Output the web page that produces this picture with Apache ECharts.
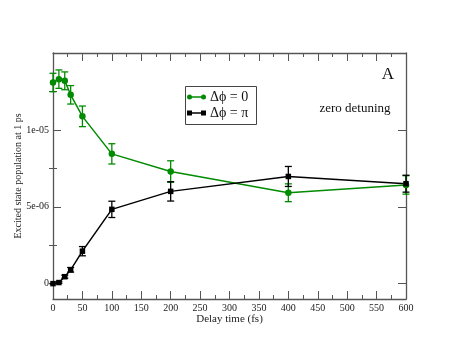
<!DOCTYPE html>
<html><head><meta charset="utf-8">
<script src="https://cdn.jsdelivr.net/npm/echarts@6/dist/echarts.min.js"></script>
<style>html,body{margin:0;padding:0;background:#fff}#c{width:457px;height:353px}</style>
</head><body><div id="c"></div>
<script>
const delays = [0, 10, 20, 30, 50, 100, 200, 400, 600];
const phase0 = [13.08e-6, 13.30e-6, 13.19e-6, 12.28e-6, 10.88e-6, 8.44e-6, 7.29e-6, 5.91e-6, 6.42e-6];
const phase0Err = [0.6e-6, 0.6e-6, 0.58e-6, 0.6e-6, 0.67e-6, 0.66e-6, 0.7e-6, 0.58e-6, 0.6e-6];
const phasePi = [0, 0.07e-6, 0.45e-6, 0.9e-6, 2.11e-6, 4.83e-6, 6.0e-6, 6.97e-6, 6.5e-6];
const phasePiErr = [0, 0.05e-6, 0.1e-6, 0.15e-6, 0.3e-6, 0.53e-6, 0.63e-6, 0.65e-6, 0.55e-6];
const yMajorTicks = [0, 5e-6, 1e-5];
const yMinorTicks = [2.5e-6, 7.5e-6, 1.25e-5];
const yTickLabels = ['0', '5e-06', '1e-05'];
const legendNames = ['\u0394\u03d5 = 0', '\u0394\u03d5 = \u03c0'];

const GREEN = '#008b00', BLACK = '#000000', AX = '#555555';
const FONT = '"Liberation Serif", "DejaVu Serif", serif';

function errData(vals, errs) { return delays.map((d, i) => [d, vals[i] - errs[i], vals[i] + errs[i]]); }
function errSeries(vals, errs, color) {
  return {
    type: 'custom', xAxisIndex: 0, yAxisIndex: 0, z: 3,
    data: errData(vals, errs),
    renderItem: function (params, api) {
      const lo = api.coord([api.value(0), api.value(1)]);
      const hi = api.coord([api.value(0), api.value(2)]);
      const w = 3.5;
      const st = {stroke: color, lineWidth: 1.3};
      return {type: 'group', children: [
        {type: 'line', shape: {x1: lo[0], y1: lo[1], x2: hi[0], y2: hi[1]}, style: st},
        {type: 'line', shape: {x1: lo[0] - w, y1: lo[1], x2: lo[0] + w, y2: lo[1]}, style: st},
        {type: 'line', shape: {x1: hi[0] - w, y1: hi[1], x2: hi[0] + w, y2: hi[1]}, style: st}
      ]};
    }
  };
}

const chart = echarts.init(document.getElementById('c'), null, {renderer: 'canvas'});
const grid = {left: 53, right: 51, top: 53, bottom: 54};
const hiddenLabel = {show: false};
chart.setOption({
  animation: false,
  grid: grid,
  xAxis: [
    {type: 'value', min: 0, max: 600, interval: 50, position: 'bottom',
     axisLine: {show: true, onZero: false, lineStyle: {color: AX, width: 1.3}},
     axisTick: {show: true, inside: true, length: 8, lineStyle: {color: AX}},
     minorTick: {show: true, splitNumber: 2, length: 4, lineStyle: {color: AX}},
     splitLine: {show: false},
     axisLabel: {color: '#222', fontFamily: FONT, fontSize: 10, margin: 4},
     name: 'Delay time (fs)', nameLocation: 'middle', nameGap: 15, nameMoveOverlap: false,
     nameTextStyle: {color: '#222', fontFamily: FONT, fontSize: 11}},
    {type: 'value', min: 0, max: 600, interval: 50, position: 'top',
     axisLine: {show: true, onZero: false, lineStyle: {color: AX, width: 1.3}},
     axisTick: {show: true, inside: true, length: 8, lineStyle: {color: AX}},
     minorTick: {show: true, splitNumber: 2, length: 4, lineStyle: {color: AX}},
     splitLine: {show: false}, axisLabel: hiddenLabel}
  ],
  yAxis: [
    {type: 'value', min: -1e-6, max: 1.5e-5, position: 'left',
     axisLine: {show: true, onZero: false, lineStyle: {color: AX, width: 1.3}},
     axisTick: {show: true, inside: true, length: 8, customValues: yMajorTicks, lineStyle: {color: AX}},
     splitLine: {show: false},
     axisLabel: {customValues: yMajorTicks, color: '#222', fontFamily: FONT, fontSize: 10, margin: 4,
       formatter: v => yTickLabels[yMajorTicks.findIndex(t => Math.abs(t - v) < 1e-9)]},
     name: 'Excited state population at 1 ps', nameLocation: 'middle', nameGap: 30, nameMoveOverlap: false,
     nameTextStyle: {color: '#222', fontFamily: FONT, fontSize: 10}},
    {type: 'value', min: -1e-6, max: 1.5e-5, position: 'left',
     axisLine: {show: false},
     axisTick: {show: true, inside: true, length: 4, customValues: yMinorTicks, lineStyle: {color: AX}},
     splitLine: {show: false}, axisLabel: {show: false, customValues: yMinorTicks}},
    {type: 'value', min: -1e-6, max: 1.5e-5, position: 'right',
     axisLine: {show: true, onZero: false, lineStyle: {color: AX, width: 1.3}},
     axisTick: {show: true, inside: true, length: 8, customValues: yMajorTicks, lineStyle: {color: AX}},
     splitLine: {show: false}, axisLabel: {show: false, customValues: yMajorTicks}},
    {type: 'value', min: -1e-6, max: 1.5e-5, position: 'right',
     axisLine: {show: false},
     axisTick: {show: true, inside: true, length: 4, customValues: yMinorTicks, lineStyle: {color: AX}},
     splitLine: {show: false}, axisLabel: {show: false, customValues: yMinorTicks}}
  ],
  series: [
    errSeries(phase0, phase0Err, GREEN),
    errSeries(phasePi, phasePiErr, BLACK),
    {type: 'line', name: legendNames[0], xAxisIndex: 0, yAxisIndex: 0, z: 4,
     data: delays.map((d, i) => [d, phase0[i]]),
     lineStyle: {color: GREEN, width: 1.5}, itemStyle: {color: GREEN},
     symbol: 'circle', symbolSize: 6.5, showAllSymbol: true},
    {type: 'line', name: legendNames[1], xAxisIndex: 0, yAxisIndex: 0, z: 4,
     data: delays.map((d, i) => [d, phasePi[i]]),
     lineStyle: {color: BLACK, width: 1.5}, itemStyle: {color: BLACK},
     symbol: 'rect', symbolSize: 5.5, showAllSymbol: true}
  ],
  graphic: [
    {type: 'rect', shape: {x: 185.5, y: 86.5, width: 71, height: 38},
     style: {fill: '#fff', stroke: '#444', lineWidth: 1}, z: 10},
    {type: 'line', shape: {x1: 189, y1: 97, x2: 204, y2: 97}, style: {stroke: GREEN, lineWidth: 1.5}, z: 11},
    {type: 'circle', shape: {cx: 189.5, cy: 97, r: 2.5}, style: {fill: GREEN}, z: 11},
    {type: 'circle', shape: {cx: 203.5, cy: 97, r: 2.5}, style: {fill: GREEN}, z: 11},
    {type: 'text', x: 210, y: 97, style: {text: legendNames[0], font: '14px ' + FONT, fill: '#111', textVerticalAlign: 'middle'}, z: 11},
    {type: 'line', shape: {x1: 189, y1: 113, x2: 204, y2: 113}, style: {stroke: BLACK, lineWidth: 1.5}, z: 11},
    {type: 'rect', shape: {x: 187, y: 110.5, width: 5, height: 5}, style: {fill: BLACK}, z: 11},
    {type: 'rect', shape: {x: 201, y: 110.5, width: 5, height: 5}, style: {fill: BLACK}, z: 11},
    {type: 'text', x: 210, y: 113, style: {text: legendNames[1], font: '14px ' + FONT, fill: '#111', textVerticalAlign: 'middle'}, z: 11},
    {type: 'text', x: 388, y: 75, style: {text: 'A', font: '17px ' + FONT, fill: '#111', textAlign: 'center', textVerticalAlign: 'middle'}, z: 11},
    {type: 'text', x: 355, y: 109, style: {text: 'zero detuning', font: '13px ' + FONT, fill: '#111', textAlign: 'center', textVerticalAlign: 'middle'}, z: 11}
  ]
});
</script></body></html>
